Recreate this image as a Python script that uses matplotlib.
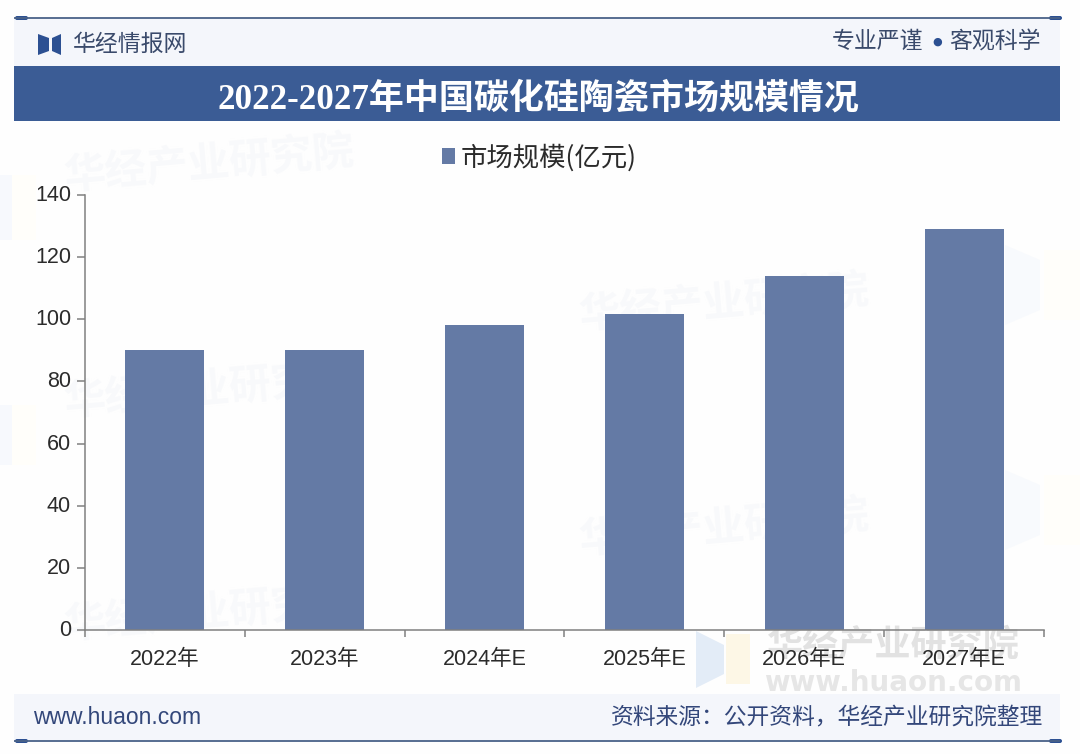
import matplotlib
matplotlib.use('Agg')
import matplotlib.pyplot as plt
from matplotlib.patches import Rectangle, Polygon, FancyBboxPatch
from matplotlib.transforms import ScaledTranslation

W, H = 1080, 754
CJK = 'Noto Sans CJK SC'
plt.rcParams['font.family'] = ['Liberation Sans', CJK, 'DejaVu Sans']

title = '2022-2027年中国碳化硅陶瓷市场规模情况'
series_name = '市场规模(亿元)'
categories = ['2022年', '2023年', '2024年E', '2025年E', '2026年E', '2027年E']
market_size = [90, 90, 98.3, 101.6, 113.8, 129]
y_ticks = [0, 20, 40, 60, 80, 100, 120, 140]
brand = '华经情报网'
slogan_left = '专业严谨'
slogan_right = '客观科学'
site = 'www.huaon.com'
source = '资料来源\uff1a公开资料\uff0c华经产业研究院整理'
watermark = '华经产业研究院'

BAR = '#647aa5'
NAVY = '#3b5c95'
TXT = '#2b2b2b'
AXC = '#808080'

fig = plt.figure(figsize=(W / 100, H / 100), dpi=100, facecolor='#fefefe')

# decoration layer in pixel coordinates
bg = fig.add_axes([0, 0, 1, 1], zorder=0)
bg.set_xlim(0, W)
bg.set_ylim(H, 0)
bg.axis('off')

# faint background logo marks
for (y0, y1) in [(245, 325), (470, 550)]:
    bg.add_patch(Polygon([(1005, y0), (1040, y0 + 15), (1040, y1 - 15), (1005, y1)], fc='#f8fafd', ec='none'))
    bg.add_patch(Rectangle((1044, y0 + 5), 36, y1 - y0 - 10, fc='#fffefa', ec='none'))
for (y0, y1) in [(175, 240), (405, 465)]:
    bg.add_patch(Rectangle((0, y0), 12, y1 - y0, fc='#f7f9fd', ec='none'))
    bg.add_patch(Rectangle((12, y0), 24, y1 - y0, fc='#fffefa', ec='none'))

bg.add_patch(Rectangle((14, 18), 1046, 48, fc='#f4f6fb', ec='none'))
bg.add_patch(Rectangle((14, 66), 1046, 55, fc=NAVY, ec='none'))
bg.add_patch(Rectangle((14, 694), 1046, 48, fc='#f4f6fb', ec='none'))
for y in (18, 741):
    bg.plot([14, 1060], [y, y], color='#4a6288', lw=1.3, solid_capstyle='butt')
    for x0 in (15, 1049):
        bg.add_patch(FancyBboxPatch((x0, y - 2), 13, 4, boxstyle='round,pad=0,rounding_size=2',
                                    fc='#2c5092', ec='none'))
# logo
bg.add_patch(Polygon([(38, 34), (49, 38), (49, 51), (38, 55)], fc='#2c5092', ec='none'))
bg.add_patch(Polygon([(61, 34), (52, 38), (52, 51), (61, 55)], fc='#2c5092', ec='none'))
bg.text(73, 44, brand, fontsize=16.5, color='#3a4a6b', va='center', ha='left')
bg.text(832, 41, slogan_left, fontsize=16.5, color='#3a4a6b', va='center', ha='left')
bg.text(937, 42, '●', fontsize=8, color='#2c5092', va='center', ha='center', family='DejaVu Sans')
bg.text(949, 41, slogan_right, fontsize=16.5, color='#3a4a6b', va='center', ha='left')
bg.text(538, 100, title, fontsize=25.2, color='white', fontweight='bold', va='center', ha='center',
        family=['Liberation Serif', CJK])
bg.text(33, 717, site, fontsize=16.5, color='#33477a', va='center', ha='left')
bg.text(1043, 718, source, fontsize=16.4, color='#33477a', va='center', ha='right')

# watermarks
for (x, y) in [(210, 166), (725, 305), (725, 530), (210, 392), (210, 615)]:
    bg.text(x, y, watermark, fontsize=30, color='#f8f9fb', fontweight='bold', rotation=5,
            va='center', ha='center')
bg.add_patch(Polygon([(696, 631), (724, 645), (724, 674), (696, 688)], fc='#e3ecf7', ec='none'))
bg.add_patch(Rectangle((726, 634), 24, 50, fc='#fdf7e6', ec='none'))
bg.text(893, 647, watermark, fontsize=26, color='#e2e2e2', fontweight='bold', va='center', ha='center')
bg.text(893, 683, site, fontsize=20, color='#e6e6e6', fontweight='bold', va='center', ha='center',
        family='DejaVu Sans')

# chart
ax = fig.add_axes([85 / W, 1 - 630 / H, (1044 - 85) / W, (630 - 195) / H], zorder=1)
ax.patch.set_alpha(0)
ax.bar(categories, market_size, width=0.495, color=BAR, label=series_name)
ax.set_xlim(-0.5, len(categories) - 0.5)
ax.set_ylim(0, 140)
ax.set_yticks(y_ticks)
for s in ('top', 'right'):
    ax.spines[s].set_visible(False)
for s in ('left', 'bottom'):
    ax.spines[s].set_color(AXC)
    ax.spines[s].set_linewidth(1.1)
ax.tick_params(axis='y', length=6, width=1.1, color=AXC, labelsize=15.5, labelcolor=TXT, pad=4)
shift = ScaledTranslation(0, 2 / 100, fig.dpi_scale_trans)
for lab in ax.get_yticklabels():
    lab.set_transform(lab.get_transform() + shift)
ax.set_xticks([i - 0.5 for i in range(len(categories) + 1)], minor=True)
ax.tick_params(axis='x', which='minor', length=5, width=1.1, color=AXC)
ax.tick_params(axis='x', which='major', length=0, labelsize=15.5, labelcolor=TXT, pad=14)
leg = ax.legend(loc='upper center', bbox_to_anchor=(0.4735, 1.148), frameon=False, handlelength=0.52,
                handleheight=0.6, handletextpad=0.2,
                prop={'size': 19, 'family': [CJK]}, labelcolor=TXT, borderpad=0)

fig.savefig('out.png', dpi=100, facecolor=fig.get_facecolor())
